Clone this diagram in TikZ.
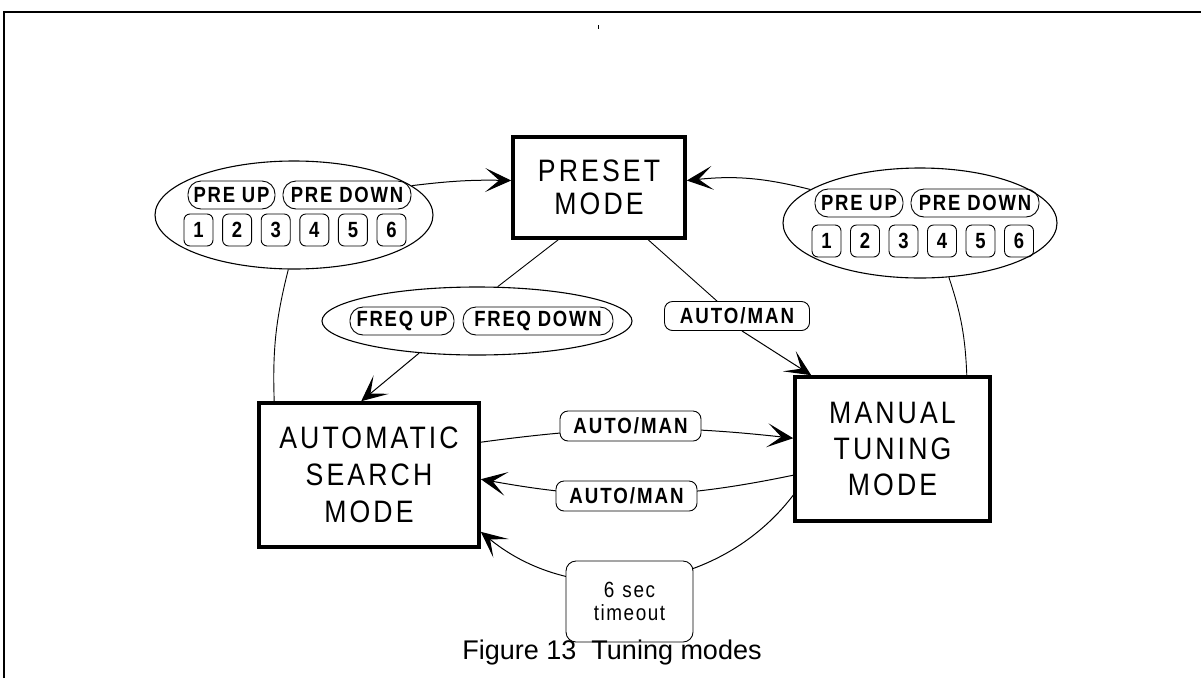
\documentclass[tikz,border=0pt]{standalone}
\usepackage{fontspec}
\setmainfont{Liberation Sans}
\usetikzlibrary{shapes.geometric,arrows.meta}
\newcommand\btnfont{\fontsize{22}{24}\selectfont\bfseries\addfontfeature{FakeStretch=0.84,LetterSpace=8}}
\newcommand\amfont{\fontsize{22}{24}\selectfont\bfseries\addfontfeature{FakeStretch=0.85,LetterSpace=9}}
\newcommand\modefont{\fontsize{31}{37}\selectfont\addfontfeature{FakeStretch=0.86,LetterSpace=10}}
\newcommand\tofont{\fontsize{22}{23}\selectfont\addfontfeature{FakeStretch=0.86,LetterSpace=7}}
\tikzset{
  modebox/.style={draw, line width=3.6pt, inner sep=0pt, align=center, font=\modefont},
  pill/.style={draw, line width=0.9pt, rounded corners=13pt, minimum height=28pt, inner sep=0pt, font=\btnfont},
  numbox/.style={draw, line width=0.9pt, rounded corners=6pt, minimum height=32pt, minimum width=29pt, inner sep=0pt, font=\btnfont},
  amlabel/.style={draw, fill=white, line width=0.9pt, rounded corners=8pt, minimum height=30pt, minimum width=141pt, inner sep=0pt, font=\amfont},
  oval/.style={draw, ellipse, line width=1.1pt, inner sep=0pt},
  conn/.style={line width=0.9pt},
  arr/.style={line width=1pt, -{Stealth[length=26pt,width=24pt,inset=14pt]}},
}
\begin{document}
\begin{tikzpicture}[x=1pt,y=-1pt]
\useasboundingbox (0,0) rectangle (1201,678);
% frame
\draw[line width=1.2pt] (4,678) -- (4,12) -- (1201,12);
\fill (597.5,25) rectangle (598.6,28.5);
% mode boxes
\node[modebox, minimum width=172pt, minimum height=101pt, font=\fontsize{31}{33}\selectfont\addfontfeature{FakeStretch=0.86,LetterSpace=10}] (preset) at (599,187.5) {PRESET\\MODE};
\node[modebox, minimum width=220pt, minimum height=144pt] (auto) at (369,475) {AUTOMATIC\\SEARCH\\MODE};
\node[modebox, minimum width=195pt, minimum height=144pt, font=\fontsize{31}{36}\selectfont\addfontfeature{FakeStretch=0.86,LetterSpace=10}] (manual) at (892.5,449) {MANUAL\\TUNING\\MODE};
% left ellipse
\node[oval, minimum width=278pt, minimum height=108pt] (elL) at (294,215) {};
\node[pill, minimum width=87pt] (lpu) at (231.5,195) {PRE UP};
\node[pill, minimum width=128pt] (lpd) at (347,195) {PRE DOWN};
\foreach \i/\n in {0/1,1/2,2/3,3/4,4/5,5/6}
  \node[numbox] (ln\n) at ({198.5+38.6*\i},230) {\n};
% right ellipse
\node[oval, minimum width=274pt, minimum height=110pt] (elR) at (920,223) {};
\node[pill, minimum width=88pt] (rpu) at (859,203) {PRE UP};
\node[pill, minimum width=128pt] (rpd) at (975,203) {PRE DOWN};
\foreach \i/\n in {0/1,1/2,2/3,3/4,4/5,5/6}
  \node[numbox] (rn\n) at ({826.5+38.5*\i},241) {\n};
% freq ellipse
\node[oval, minimum width=310pt, minimum height=68pt] (elF) at (477,321) {};
\node[pill, minimum width=104pt] (fu) at (402,321) {FREQ UP};
\node[pill, minimum width=150pt] (fd) at (538,321) {FREQ DOWN};
% connectors
\draw[conn] ([xshift=17pt]auto.north west) to[bend left=8] (elL.264);
\draw[arr] (elL.14) to[bend left=4] ([yshift=7pt]preset.west);
\draw[conn] ([xshift=-25pt]manual.north east) to[bend right=8] (elR.-62);
\draw[arr] (elR.163) to[bend right=10] ([yshift=7pt]preset.east);
\draw[conn] ([xshift=47pt]preset.south west) -- (elF.59);
\draw[arr] (elF.-151) -- ([xshift=104pt]auto.north west);
% auto/man labels
\node[amlabel, minimum width=145pt, minimum height=29pt] (am3) at (737,316) {AUTO/MAN};
\draw[conn] ([xshift=137pt]preset.south west) -- ([xshift=-20pt]am3.north);
\draw[arr] ([xshift=5pt]am3.south) -- ([xshift=18pt]manual.north west);
\draw[arr] ([yshift=-41pt]auto.north east) to[bend left=7] ([yshift=-63pt]manual.north west);
\draw[arr] ([yshift=-100pt]manual.north west) to[bend left=11] ([yshift=-78pt]auto.north east);
\draw[arr] ([yshift=-120pt]manual.north west) to[bend left=46] ([yshift=17pt]auto.south east);
\node[amlabel] (am1) at (630.5,426) {AUTO/MAN};
\node[amlabel] (am2) at (626.5,496) {AUTO/MAN};
\node[draw, fill=white, line width=0.9pt, rounded corners=10pt, minimum width=127pt, minimum height=81pt, inner sep=0pt, align=center, font=\tofont] (tmo) at (629.5,601.5) {6\hspace{8pt}sec\\timeout};
% caption
\node[font=\fontsize{27}{30}\selectfont, inner sep=0pt] (cap) at (612,653) {Figure 13\ \ Tuning modes};
\end{tikzpicture}
\end{document}
